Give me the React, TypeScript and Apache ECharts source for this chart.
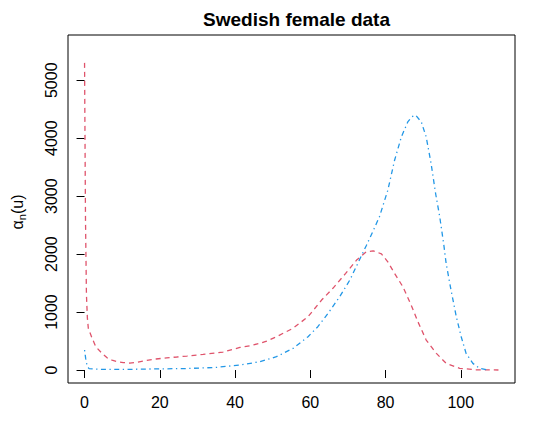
import React, { useEffect, useRef } from "react";
import * as echarts from "echarts";

const titleText = "Swedish female data";
const xTicks = [0, 20, 40, 60, 80, 100];
const yTicks = [0, 1000, 2000, 3000, 4000, 5000];

const redAges = [0, 0.25, 0.5, 0.75, 1, 2, 3, 4.6, 6, 7.3, 8.5, 10.3, 12, 14, 16.5, 19, 21.8, 24.5, 27.2, 31.5, 36.8, 41.3, 44, 46.6, 48.4, 51, 55.4, 59.4, 63, 66, 69.4, 72.3, 74.9, 76.7, 78.9, 80.6, 82.4, 84.6, 86.8, 88.6, 90.8, 93.5, 96.1, 99.7, 104, 110];
const redValues = [5300, 2600, 1300, 900, 720, 550, 400, 290, 210, 170, 145, 128, 120, 135, 165, 190, 210, 225, 241, 270, 310, 390, 420, 460, 500, 575, 720, 920, 1207, 1410, 1667, 1897, 2040, 2057, 2005, 1867, 1667, 1437, 1121, 833, 517, 287, 115, 29, 5, 0];

const blueAges = [0, 0.3, 0.7, 1.2, 3, 6, 10, 15, 20, 27, 35, 41.3, 46.6, 51, 55.4, 59.4, 62, 64.7, 67.8, 70.5, 72.7, 74.9, 76.7, 78.4, 80.6, 82.4, 84.2, 85.9, 87, 88, 89.5, 90.8, 92.1, 93.3, 94.4, 95.5, 96.1, 97.4, 98.8, 100.1, 101.4, 103.2, 105, 107];
const blueValues = [345, 200, 60, 25, 15, 10, 10, 15, 20, 25, 45, 86, 143, 230, 373, 575, 747, 977, 1264, 1552, 1850, 2150, 2400, 2650, 3103, 3620, 4022, 4281, 4370, 4397, 4281, 4022, 3563, 3046, 2643, 2150, 1839, 1379, 920, 575, 287, 115, 29, 5];

const FONT = "'Liberation Sans', Arial, Helvetica, sans-serif";

export default function App() {
  const ref = useRef<HTMLDivElement>(null);
  useEffect(() => {
    if (!ref.current) return;
    const chart = echarts.init(ref.current, null, { renderer: "svg" });
    const red = redAges.map((a, i) => [a, redValues[i]]);
    const blue = blueAges.map((a, i) => [a, blueValues[i]]);
    chart.setOption({
      animation: false,
      backgroundColor: "#fff",
      textStyle: { fontFamily: FONT },
      title: {
        text: titleText,
        left: 291.5,
        textAlign: "center",
        top: 5,
        textStyle: { fontSize: 19, fontWeight: "bold", color: "#000", fontFamily: FONT },
      },
      grid: {
        left: 68,
        right: 21,
        top: 35,
        bottom: 63,
        show: true,
        borderColor: "#000",
        borderWidth: 1,
        backgroundColor: "transparent",
      },
      xAxis: {
        type: "value",
        min: -4.4,
        max: 114.4,
        axisLine: { show: false },
        splitLine: { show: false },
        axisTick: { show: true, customValues: xTicks, length: 8, lineStyle: { color: "#000" } },
        axisLabel: {
          customValues: xTicks,
          fontSize: 16,
          color: "#000",
          margin: 11,
          fontFamily: FONT,
          formatter: (v: number) => String(v),
        },
      },
      yAxis: {
        type: "value",
        min: -224,
        max: 5781,
        axisLine: { show: false },
        splitLine: { show: false },
        axisTick: { show: true, customValues: yTicks, length: 8, lineStyle: { color: "#000" } },
        axisLabel: {
          customValues: yTicks,
          fontSize: 16,
          color: "#000",
          margin: 9,
          rotate: 90,
          fontFamily: FONT,
          formatter: (v: number) => String(v),
        },
      },
      graphic: [
        {
          type: "text",
          x: 17,
          y: 212,
          rotation: Math.PI / 2,
          style: {
            text: "{a|α}{s|n}{a|(u)}",
            align: "center",
            verticalAlign: "middle",
            fill: "#000",
            rich: {
              a: { fontSize: 16, lineHeight: 20, fontFamily: FONT, fill: "#000" },
              s: { fontSize: 11, lineHeight: 12, verticalAlign: "bottom", fontFamily: FONT, fill: "#000" },
            },
          },
        },
      ],
      series: [
        {
          type: "line",
          data: red,
          showSymbol: false,
          smooth: false,
          lineStyle: { color: "#DF536B", width: 1.3, type: [5, 4] },
        },
        {
          type: "line",
          data: blue,
          showSymbol: false,
          smooth: false,
          lineStyle: { color: "#2297E6", width: 1.3, type: [1.3, 3.5, 5, 3.5] },
        },
      ],
    });
    return () => chart.dispose();
  }, []);
  return (
    <div
      ref={ref}
      style={{ position: "fixed", left: 0, top: 0, width: 536, height: 446, background: "#fff" }}
    />
  );
}
